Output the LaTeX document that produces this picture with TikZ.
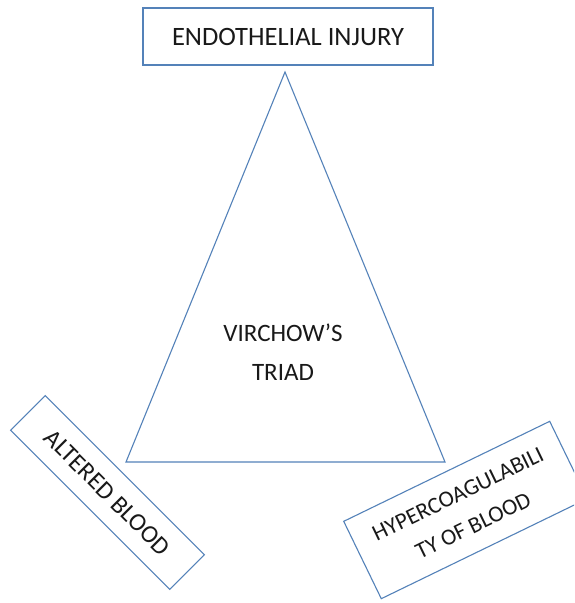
\documentclass[tikz,border=0pt]{standalone}
\usepackage{fontspec}
\setmainfont{Carlito}
\definecolor{triblue}{RGB}{84,130,185}
\begin{document}
\begin{tikzpicture}[x=1pt, y=-1pt,
                    every node/.style = {align=center, text=black!90,
                            font=\fontsize{25}{39}\selectfont},
                    factor/.style = {draw=triblue, line width=1.1pt, inner sep=0pt}]
    \clip (0,0) rectangle (574,603);
    \fill[white] (0,0) rectangle (574,603);
    % the triad
    \coordinate (apex) at (285,72);
    \coordinate (baseL) at (126,462);
    \coordinate (baseR) at (445,462);
    \draw[triblue, line width=1.1pt] (apex) -- (baseL) -- (baseR) -- cycle;
    \node (triad) at (283,352) {VIRCHOW’S\\TRIAD};
    % the three factors
    \node[factor, minimum width=290pt, minimum height=57pt,
          font=\fontsize{26.5}{39}\selectfont] (injury) at (288,36.5) {ENDOTHELIAL INJURY};
    \node[factor, rotate=-45, minimum width=225pt, minimum height=49pt] (flow) at (107.5,492.5) {ALTERED BLOOD};
    \node[factor, rotate=25.9, minimum width=229pt, minimum height=86pt,
          font=\fontsize{23}{35}\selectfont] (hyper) at (465.5,510) {HYPERCOAGULABILI\\TY OF BLOOD};
\end{tikzpicture}
\end{document}
